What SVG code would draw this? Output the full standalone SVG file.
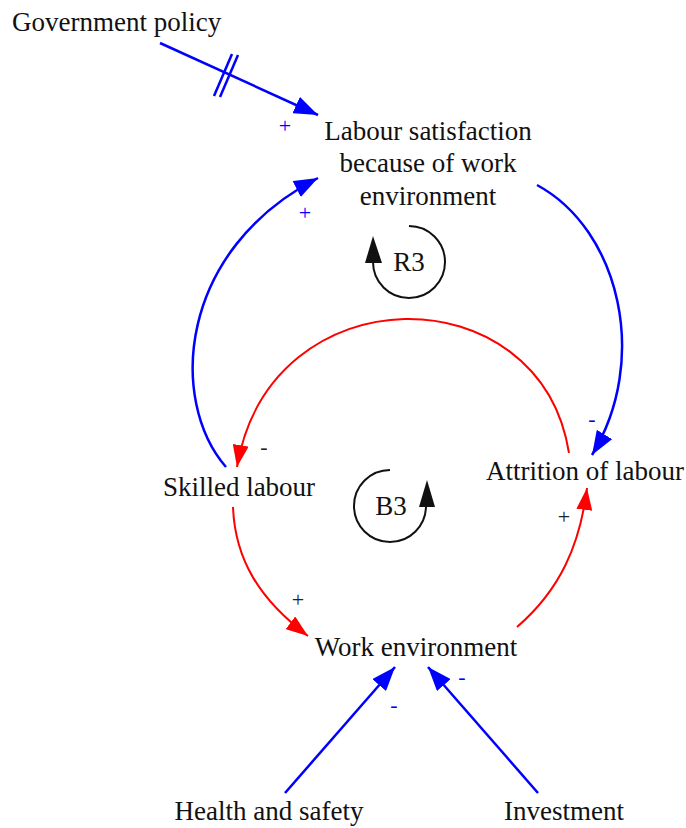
<svg xmlns="http://www.w3.org/2000/svg" width="686" height="828" viewBox="0 0 686 828" font-family="'Liberation Serif', 'Times New Roman', Tinos, 'DejaVu Serif', serif">
<style>
text{font-family:'Liberation Serif','Times New Roman',Tinos,'DejaVu Serif',serif;font-size:27px;fill:#111}
.c{text-anchor:middle}
.pol{font-size:22px;text-anchor:middle}
.b{fill:#0000ff}
.k{fill:#222}
.blue{fill:none;stroke:#0000ff;stroke-width:2.5}
.red{fill:none;stroke:#ff0000;stroke-width:2}
.loop{fill:none;stroke:#111;stroke-width:2}
</style>
<defs>
<marker id="ab" markerUnits="userSpaceOnUse" markerWidth="26" markerHeight="18" refX="24" refY="9" orient="auto"><path d="M0,0 L24,9 L0,18 z" fill="#0000ff"/></marker>
<marker id="ar" markerUnits="userSpaceOnUse" markerWidth="24" markerHeight="16" refX="22" refY="8" orient="auto"><path d="M0,0 L22,8 L0,16 z" fill="#ff0000"/></marker>
</defs>
<g id="connectors">
<path class="blue" d="M160,43 L318,115" marker-end="url(#ab)"/>
<line class="blue" x1="214" y1="96" x2="232" y2="54" stroke-width="2"/>
<line class="blue" x1="220" y1="97" x2="238" y2="55" stroke-width="2"/>
<path class="blue" d="M226,467 C168,400 178,250 318,178" marker-end="url(#ab)"/>
<path class="blue" d="M537,185 C620,230 650,360 592,455" marker-end="url(#ab)"/>
<path class="red" d="M569,453 C540,272 270,272 237,467" marker-end="url(#ar)"/>
<path class="red" d="M233,507 C235,560 260,600 308,636" marker-end="url(#ar)"/>
<path class="red" d="M517,627 C560,590 580,545 587,488" marker-end="url(#ar)"/>
<path class="blue" d="M285,793 L395,667" marker-end="url(#ab)"/>
<path class="blue" d="M538,793 L428,667" marker-end="url(#ab)"/>
<text class="pol b" x="285" y="133">+</text>
<text class="pol b" x="305" y="220">+</text>
<text class="pol b" x="592" y="426">-</text>
<text class="pol k" x="264" y="454">-</text>
<text class="pol k" x="298" y="607">+</text>
<text class="pol k" x="564" y="524">+</text>
<text class="pol b" x="462" y="684">-</text>
<text class="pol b" x="394" y="712">-</text>
</g>
<g id="loop-r3">
<path class="loop" d="M409,226 A36,36 0 1 1 373,262"/>
<polygon points="373,236 365,263 382,263" fill="#111"/>
<text class="c" x="409" y="271">R3</text>
</g>
<g id="loop-b3">
<path class="loop" d="M390,470 A36,36 0 1 0 426,506"/>
<polygon points="427,480 419,507 435,507" fill="#111"/>
<text class="c" x="391" y="515">B3</text>
</g>
<g id="government-policy"><text x="12" y="31">Government policy</text></g>
<g id="labour-satisfaction">
<text class="c" x="428" y="140">Labour satisfaction</text>
<text class="c" x="428" y="172">because of work</text>
<text class="c" x="428" y="205">environment</text>
</g>
<g id="skilled-labour"><text class="c" x="239" y="496">Skilled labour</text></g>
<g id="attrition-of-labour"><text class="c" x="585" y="480">Attrition of labour</text></g>
<g id="work-environment"><text class="c" x="416" y="656">Work environment</text></g>
<g id="health-and-safety"><text class="c" x="269" y="820">Health and safety</text></g>
<g id="investment"><text class="c" x="564" y="820">Investment</text></g>
</svg>
